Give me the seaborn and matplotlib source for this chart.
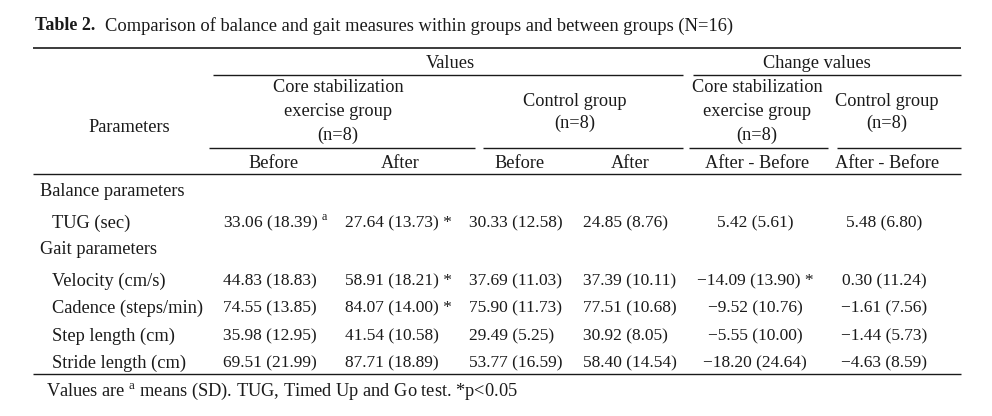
import numpy as np
import pandas as pd
import matplotlib
matplotlib.use("Agg")
import matplotlib.pyplot as plt
import seaborn as sns

# table contents
params = ["TUG (sec)", "Velocity (cm/s)", "Cadence (steps/min)", "Step length (cm)", "Stride length (cm)"]
section = ["Balance parameters", "Gait parameters", "Gait parameters", "Gait parameters", "Gait parameters"]

core_before_mean = [33.06, 44.83, 74.55, 35.98, 69.51]
core_before_sd = [18.39, 18.83, 13.85, 12.95, 21.99]
core_after_mean = [27.64, 58.91, 84.07, 41.54, 87.71]
core_after_sd = [13.73, 18.21, 14.00, 10.58, 18.89]
ctrl_before_mean = [30.33, 37.69, 75.90, 29.49, 53.77]
ctrl_before_sd = [12.58, 11.03, 11.73, 5.25, 16.59]
ctrl_after_mean = [24.85, 37.39, 77.51, 30.92, 58.40]
ctrl_after_sd = [8.76, 10.11, 10.68, 8.05, 14.54]
core_change_mean = [5.42, -14.09, -9.52, -5.55, -18.20]
core_change_sd = [5.61, 13.90, 10.76, 10.00, 24.64]
ctrl_change_mean = [5.48, 0.30, -1.61, -1.44, -4.63]
ctrl_change_sd = [6.80, 11.24, 7.56, 5.73, 8.59]

core_after_sig = [True, True, True, False, False]
core_change_sig = [False, True, False, False, False]

title_bold = "Table 2."
title_rest = "Comparison of balance and gait measures within groups and between groups (N=16)"
footnote = "Values are $^{\\rm a}$ means (SD). TUG, Timed Up and Go test. *p<0.05"

df = pd.DataFrame({
    "section": section, "param": params,
    "cb_m": core_before_mean, "cb_s": core_before_sd,
    "ca_m": core_after_mean, "ca_s": core_after_sd,
    "kb_m": ctrl_before_mean, "kb_s": ctrl_before_sd,
    "ka_m": ctrl_after_mean, "ka_s": ctrl_after_sd,
    "cc_m": core_change_mean, "cc_s": core_change_sd,
    "kc_m": ctrl_change_mean, "kc_s": ctrl_change_sd,
})


def fmt(m, s):
    return f"{m:.2f}".replace("-", "\u2212") + f" ({s:.2f})"


sns.set_theme(style="white")
plt.rcParams["font.family"] = ["Liberation Serif", "DejaVu Serif"]
plt.rcParams["mathtext.fontset"] = "custom"
plt.rcParams["mathtext.rm"] = "Liberation Serif"

fig = plt.figure(figsize=(9.92, 4.16), dpi=100)
ax = fig.add_axes([0, 0, 1, 1])
ax.set_xlim(0, 992)
ax.set_ylim(416, 0)
ax.axis("off")

col = "#1a1a1a"
kw = dict(fontsize=13.2, color=col, va="center")      # words
nkw = dict(fontsize=12.5, color=col, va="center")     # numbers

# title
ax.text(35, 26, title_bold, fontweight="bold", ha="left", fontsize=13.0, color=col, va="center")
ax.text(105, 26, title_rest, ha="left", fontsize=13.3, color=col, va="center")

# rules
lw = 1.0
ax.hlines(48, 33, 961, color=col, lw=1.2)
ax.hlines(75, 213, 683, color=col, lw=lw)
ax.hlines(75, 693, 961, color=col, lw=lw)
ax.hlines(148, 209, 475, color=col, lw=lw)
ax.hlines(148, 483, 683, color=col, lw=lw)
ax.hlines(148, 689, 828, color=col, lw=lw)
ax.hlines(148, 837, 961, color=col, lw=lw)
ax.hlines(174, 33, 961, color=col, lw=lw)
ax.hlines(374, 33, 961, color=col, lw=lw)

# header
ax.text(450, 63, "Values", ha="center", **kw)
ax.text(817, 63, "Change values", ha="center", **kw)
ax.text(129, 128, "Parameters", ha="center", **kw)
for y, s in zip([88, 112, 135], ["Core stabilization", "exercise group", "(n=8)"]):
    ax.text(338, y, s, ha="center", **kw)
    ax.text(757, y, s, ha="center", **kw)
for y, s in zip([101, 123], ["Control group", "(n=8)"]):
    ax.text(575, y, s, ha="center", **kw)
    ax.text(887, y, s, ha="center", **kw)
for x, s in zip([273, 400, 519, 630, 757, 887],
                ["Before", "After", "Before", "After", "After - Before", "After - Before"]):
    ax.text(x, 163, s, ha="center", **kw)

# body
row_y = [223, 281, 308, 336, 363]
section_y = {"Balance parameters": 191, "Gait parameters": 250}
for name, y in section_y.items():
    ax.text(40, y, name, ha="left", **kw)

for i, r in df.iterrows():
    y = row_y[i]
    ax.text(52, y, r["param"], ha="left", **kw)
    s = fmt(r["cb_m"], r["cb_s"])
    if i == 0:
        s += " $^{\\rm a}$"
    ax.text(223, y, s, ha="left", **nkw)
    s = fmt(r["ca_m"], r["ca_s"]) + (" *" if core_after_sig[i] else "")
    ax.text(345, y, s, ha="left", **nkw)
    ax.text(469, y, fmt(r["kb_m"], r["kb_s"]), ha="left", **nkw)
    ax.text(583, y, fmt(r["ka_m"], r["ka_s"]), ha="left", **nkw)
    s = fmt(r["cc_m"], r["cc_s"]) + (" *" if core_change_sig[i] else "")
    ax.text(755, y, s, ha="center", **nkw)
    ax.text(884, y, fmt(r["kc_m"], r["kc_s"]), ha="center", **nkw)

ax.text(46, 391, footnote, ha="left", **kw)

fig.savefig("out.png", dpi=100, facecolor="white")
